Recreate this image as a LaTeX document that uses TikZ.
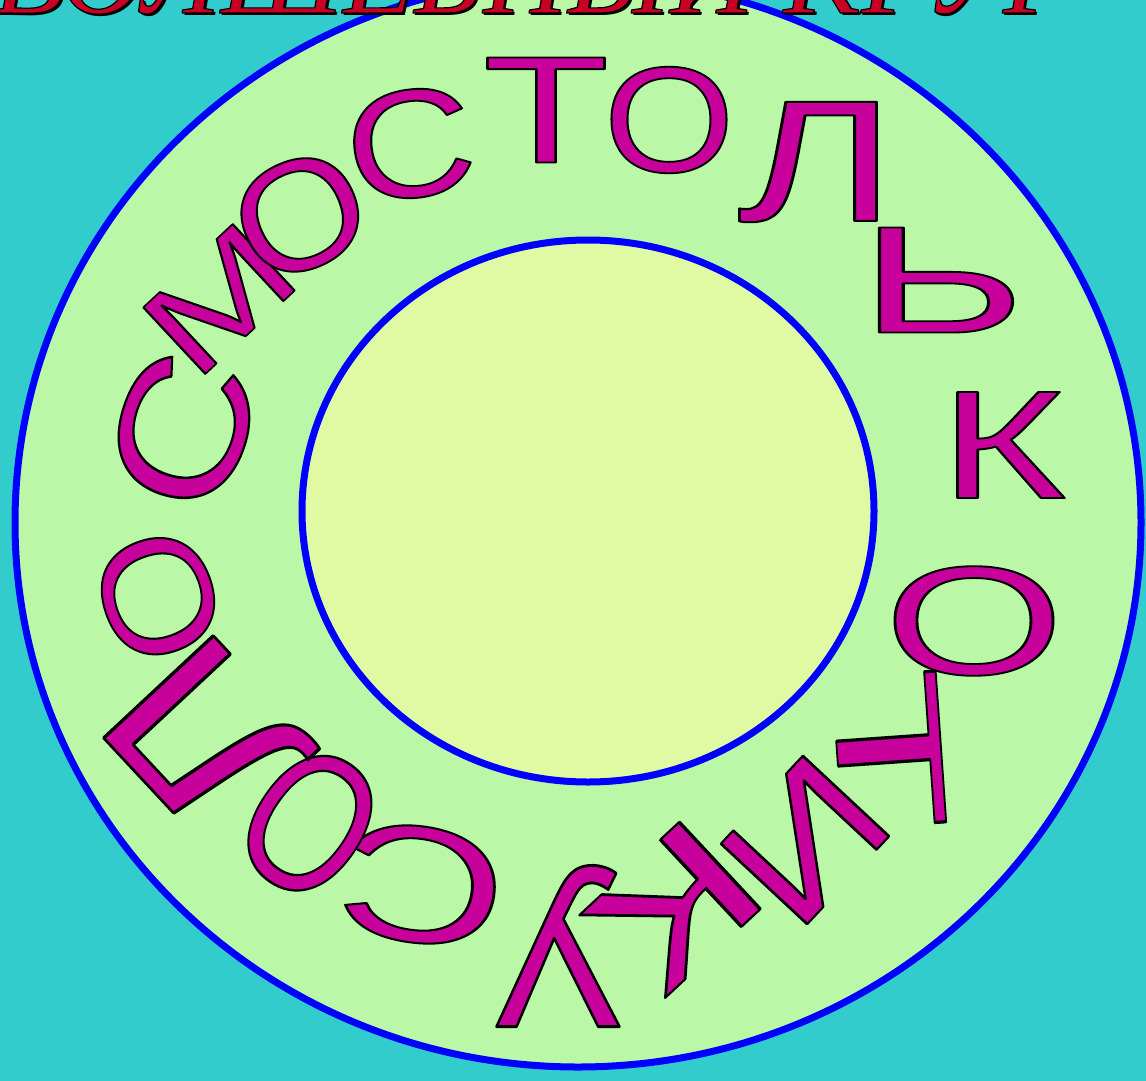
\documentclass[tikz,border=0pt]{standalone}
\usepackage{fontspec}
\usepackage{graphicx}
\newfontfamily\ltrfont{Liberation Sans}
\newfontfamily\ttlfont{Liberation Serif}
\definecolor{bgc}{RGB}{51,204,204}
\definecolor{ringc}{RGB}{186,248,168}
\definecolor{innerc}{RGB}{224,250,164}
\definecolor{bluec}{RGB}{0,0,255}
\definecolor{magc}{RGB}{200,0,156}
\definecolor{ttlc}{RGB}{200,0,36}
% text drawn filled and outlined in black
\newcommand\strk[2]{\special{pdf:literal direct 0 0 0 RG #1 w 1 j 2 Tr}#2\special{pdf:literal direct 0 Tr}}
% box of the ink of one glyph (side bearings removed)
\newcommand\ink[1]{\begingroup
  \dimen0=\XeTeXglyphbounds1 \XeTeXcharglyph`#1\relax
  \dimen2=\XeTeXglyphbounds3 \XeTeXcharglyph`#1\relax
  \hbox{\kern-\dimen0\strk{1.8}{#1}\kern-\dimen2}\endgroup}
\tikzset{
  ltr/.style={inner sep=0pt, outer sep=0pt, text=magc,
    font=\ltrfont\fontsize{147}{150}\selectfont},
  ttl/.style={inner sep=0pt, outer sep=0pt, anchor=base west,
    font=\ttlfont\itshape\fontsize{117}{120}\selectfont},
  ring/.style={draw=bluec, line width=7pt}
}
\newcommand\putltr[7]{\node[ltr,rotate=#4] (#1) at (#2,#3) {\resizebox{#5pt}{#6pt}{\ink{#7}}};}
\begin{document}
\begin{tikzpicture}[x=1pt,y=-1pt]
\useasboundingbox (0,0) rectangle (1146,1081);
\fill[bgc] (0,0) rectangle (1146,1081);
\path[ring, fill=ringc] (578,522.5) ellipse [x radius=563pt, y radius=544.5pt];
\path[ring, fill=innerc] (588,511) ellipse [x radius=286pt, y radius=271pt];
% letters around the ring
\putltr{l1}{183}{430}{72}{135}{125}{С}
\putltr{l2}{219}{299}{43}{122}{91}{М}
\putltr{l3}{300}{215}{25}{115}{108}{О}
\putltr{l4}{411}{144}{8}{113}{107}{С}
\putltr{l5}{546}{110}{0}{117}{105}{Т}
\putltr{l6}{669}{120}{0}{115}{105}{О}
\putltr{l7}{808}{162}{0}{137}{119}{Л}
\putltr{l8}{946}{280}{0}{133}{105}{Ь}
\putltr{l9}{1011}{445}{0}{107}{106}{К}
\putltr{l10}{974}{621}{0}{158}{108}{О}
\putltr{l11}{889}{750}{-86}{151}{104}{Т}
\putltr{l12}{805}{840}{-133}{120}{118}{И}
\putltr{l13}{670}{912}{-137}{136}{119}{К}
\putltr{l14}{558}{946}{180}{123}{159}{У}
\putltr{l15}{421}{885}{172}{147}{115}{С}
\putltr{l16}{310}{823}{145}{105}{140}{О}
\putltr{l17}{212}{743}{133}{155}{150}{Л}
\putltr{l18}{158}{596}{110}{115}{108}{О}
% title
\node[ttl, text=black] (tsh) at (-3.5,15.5) {ВОЛШЕБНЫЙ КРУГ};
\node[ttl, text=ttlc] (title) at (-6,13) {\strk{1.2}{ВОЛШЕБНЫЙ КРУГ}};
\end{tikzpicture}
\end{document}
